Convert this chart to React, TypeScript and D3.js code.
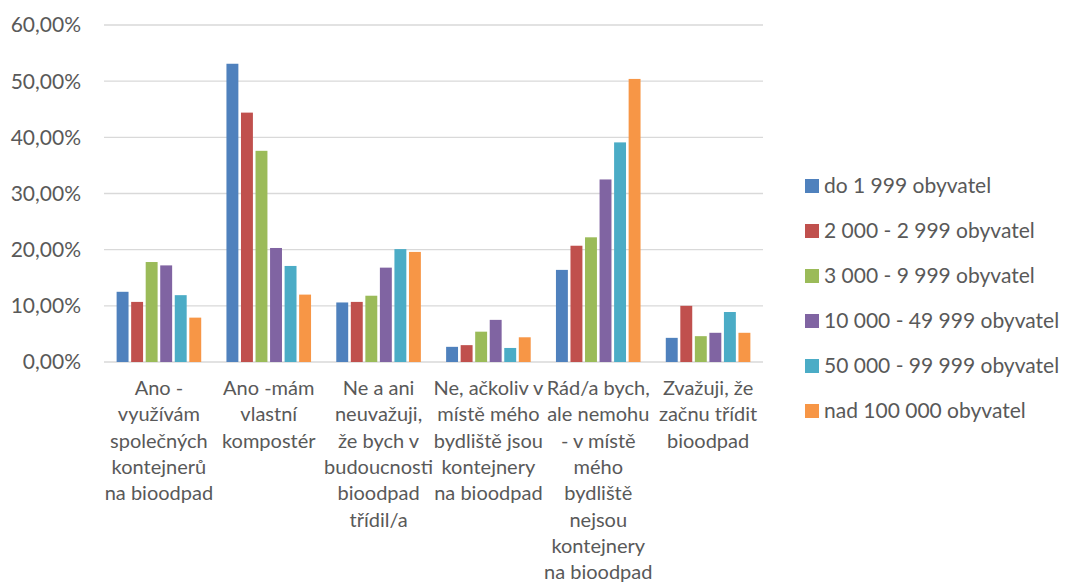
import React, { useEffect, useRef } from 'react';
import * as d3 from 'd3';

// Categories as Excel wrapped them under the axis
const categoryLines: string[][] = [
  ['Ano -', 'využívám', 'společných', 'kontejnerů', 'na bioodpad'],
  ['Ano -mám', 'vlastní', 'kompostér'],
  ['Ne a ani', 'neuvažuji,', 'že bych v', 'budoucnosti', 'bioodpad', 'třídil/a'],
  ['Ne, ačkoliv v', 'místě mého', 'bydliště jsou', 'kontejnery', 'na bioodpad'],
  ['Rád/a bych,', 'ale nemohu', '- v místě', 'mého', 'bydliště', 'nejsou', 'kontejnery', 'na bioodpad'],
  ['Zvažuji, že', 'začnu třídit', 'bioodpad'],
];

const seriesNames = [
  'do 1 999 obyvatel',
  '2 000 - 2 999 obyvatel',
  '3 000 - 9 999 obyvatel',
  '10 000 - 49 999 obyvatel',
  '50 000 - 99 999 obyvatel',
  'nad 100 000 obyvatel',
];

const seriesColors = ['#4F81BD', '#C0504D', '#9BBB59', '#8064A2', '#4BACC6', '#F79646'];

// values in %, one array per series, in category order
const s1 = [12.5, 53.1, 10.6, 2.7, 16.4, 4.3];
const s2 = [10.7, 44.4, 10.7, 3.0, 20.7, 10.0];
const s3 = [17.8, 37.6, 11.8, 5.4, 22.2, 4.6];
const s4 = [17.2, 20.3, 16.8, 7.5, 32.5, 5.2];
const s5 = [11.9, 17.1, 20.1, 2.5, 39.1, 8.9];
const s6 = [7.9, 12.0, 19.6, 4.4, 50.4, 5.2];
const seriesValues = [s1, s2, s3, s4, s5, s6];

const yTicks = [0, 10, 20, 30, 40, 50, 60];

const W = 1066;
const H = 582;
const FONT = 'Lato, "Open Sans", sans-serif';
const TEXT = '#595959';

const App: React.FC = () => {
  const ref = useRef<SVGSVGElement>(null);

  useEffect(() => {
    const svg = d3.select(ref.current!);
    svg.selectAll('*').remove();

    const plot = { left: 104, right: 763, top: 25, bottom: 362 };
    const cats = categoryLines.map((_, i) => String(i));

    const x0 = d3.scaleBand<string>().domain(cats).range([plot.left, plot.right]).padding(0);
    const groupW = 84.6;
    const x1 = d3
      .scaleBand<number>()
      .domain(d3.range(seriesNames.length))
      .range([0, groupW])
      .paddingInner(0.18)
      .paddingOuter(0);
    const y = d3.scaleLinear().domain([0, 60]).range([plot.bottom, plot.top]);

    // gridlines
    svg
      .append('g')
      .selectAll('line')
      .data(yTicks)
      .enter()
      .append('line')
      .attr('x1', plot.left)
      .attr('x2', plot.right)
      .attr('y1', (d) => y(d))
      .attr('y2', (d) => y(d))
      .attr('stroke', '#D9D9D9')
      .attr('stroke-width', 1.3);

    // y tick labels
    svg
      .append('g')
      .selectAll('text')
      .data(yTicks)
      .enter()
      .append('text')
      .attr('x', 81)
      .attr('y', (d) => y(d))
      .attr('dy', '0.35em')
      .attr('text-anchor', 'end')
      .attr('font-family', FONT)
      .attr('font-size', 21)
      .attr('fill', TEXT)
      .text((d) => d.toFixed(2).replace('.', ',') + '%');

    // bars
    const groups = svg
      .append('g')
      .selectAll('g')
      .data(cats)
      .enter()
      .append('g')
      .attr('transform', (c) => `translate(${(x0(c) as number) + (x0.bandwidth() - groupW) / 2},0)`);

    groups
      .selectAll('rect')
      .data((c) => seriesValues.map((vals, si) => ({ si, v: vals[+c] })))
      .enter()
      .append('rect')
      .attr('x', (d) => x1(d.si) as number)
      .attr('width', x1.bandwidth())
      .attr('y', (d) => y(d.v))
      .attr('height', (d) => y(0) - y(d.v))
      .attr('fill', (d) => seriesColors[d.si]);

    // category labels
    const lineH = 26.3;
    svg
      .append('g')
      .selectAll('text')
      .data(cats)
      .enter()
      .append('text')
      .attr('text-anchor', 'middle')
      .attr('font-family', FONT)
      .attr('font-size', 20)
      .attr('fill', TEXT)
      .each(function (c) {
        const t = d3.select(this);
        const cx = (x0(c) as number) + x0.bandwidth() / 2;
        categoryLines[+c].forEach((line, li) => {
          t.append('tspan')
            .attr('x', cx)
            .attr('y', 388 + li * lineH)
            .attr('dy', '0.35em')
            .text(line);
        });
      });

    // legend
    const legend = svg
      .append('g')
      .selectAll('g')
      .data(seriesNames)
      .enter()
      .append('g')
      .attr('transform', (_, i) => `translate(805,${186 + i * 45})`);
    legend
      .append('rect')
      .attr('x', 0)
      .attr('y', -7)
      .attr('width', 14)
      .attr('height', 14)
      .attr('fill', (_, i) => seriesColors[i]);
    legend
      .append('text')
      .attr('x', 19)
      .attr('y', 0)
      .attr('dy', '0.35em')
      .attr('font-family', FONT)
      .attr('font-size', 21)
      .attr('fill', TEXT)
      .text((d) => d);
  }, []);

  return (
    <svg
      ref={ref}
      width={W}
      height={H}
      style={{ position: 'absolute', left: 0, top: 0, display: 'block', background: '#fff' }}
    />
  );
};

export default App;
